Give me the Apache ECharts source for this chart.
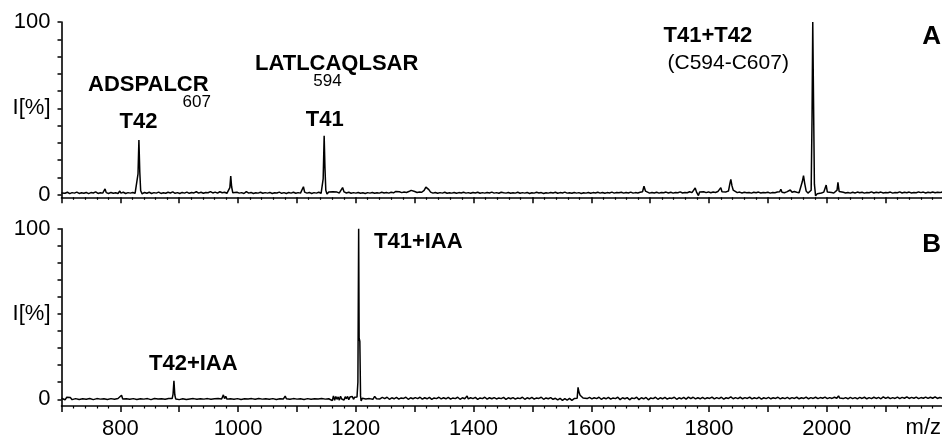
<!DOCTYPE html>
<html>
<head>
<meta charset="utf-8">
<script src="https://cdn.jsdelivr.net/npm/echarts@6/dist/echarts.min.js"></script>
<style>
  html, body { margin: 0; padding: 0; background: #fff; }
  #chart { width: 942px; height: 435px; }
</style>
</head>
<body>
<div id="chart"></div>
<script>
// m/z axis
const mzMin = 700;
const mzMax = 2200;
const mzLabels = [800, 1000, 1200, 1400, 1600, 1800, 2000];
// intensity axis (percent)
const intensityTicks = [0, 10, 20, 30, 40, 50, 60, 70, 80, 90, 100];
const intensityLabels = [0, 50, 100];

// Spectrum A: tryptic digest, non-reduced (m/z, relative intensity %)
const spectrumA = [
[700,0.9],[703,1.8],[706,0.7],[710,1.3],[714,0.5],[718,1.1],[722,0.8],[726,1.4],[730,0.6],[734,1.0],[738,0.7],[742,1.2],[746,0.5],[750,1.1],[754,0.9],[758,1.5],[762,0.6],[766,1.0],[770,0.8],[772,1.6],[774,3.2],[776,1.1],[780,0.6],[784,1.2],[788,0.7],[792,1.0],[796,0.6],[799,2.0],[801,0.8],[805,1.3],[809,0.6],[813,1.1],[817,0.8],[821,1.2],[825,0.7],[828,1.0],[830,12],[831.5,31.6],[833,13],[834.5,2.2],[837,0.4],[841,1.2],[845,0.7],[849,1.3],[853,0.6],[857,1.1],[861,0.8],[865,1.4],[869,0.6],[873,1.0],[877,0.7],[881,1.3],[885,0.9],[889,1.5],[893,0.7],[897,1.1],[901,0.6],[905,1.2],[909,0.8],[913,1.4],[917,0.7],[921,1.2],[925,0.9],[929,1.6],[933,0.8],[937,1.3],[941,0.7],[945,1.2],[949,1.0],[953,1.7],[957,0.9],[961,1.4],[965,0.8],[969,1.6],[973,1.0],[977,1.3],[981,0.7],[984,1.5],[986,4],[987.5,10.7],[989,4.5],[991,1.0],[994,0.6],[998,1.3],[1002,0.8],[1006,1.1],[1010,0.6],[1014,1.7],[1018,0.8],[1022,1.2],[1026,0.6],[1030,1.0],[1034,0.8],[1038,1.3],[1042,0.7],[1046,1.1],[1050,0.8],[1054,1.2],[1058,0.6],[1062,1.0],[1066,0.9],[1070,1.4],[1074,0.7],[1078,1.1],[1082,0.6],[1086,1.2],[1090,0.8],[1094,1.3],[1098,0.7],[1102,1.1],[1106,0.8],[1109,1.6],[1111,4.5],[1113,1.4],[1117,0.8],[1121,1.2],[1125,0.6],[1129,1.1],[1133,0.8],[1137,1.3],[1141,0.7],[1143,0.2],[1144.5,9],[1146.2,34],[1147.5,16],[1149,2.5],[1151,0.3],[1154,1.5],[1157,0.8],[1161,1.6],[1164,0.7],[1168,1.4],[1172,0.9],[1175,1.8],[1177.5,4.0],[1180,1.5],[1184,0.9],[1188,1.3],[1192,0.7],[1196,1.1],[1200,0.8],[1204,1.2],[1208,0.7],[1212,1.0],[1216,0.6],[1220,1.1],[1224,0.8],[1228,1.2],[1232,0.7],[1236,1.0],[1240,0.8],[1244,1.3],[1248,0.9],[1252,1.2],[1256,0.8],[1260,1.3],[1264,1.0],[1268,1.8],[1271,2.6],[1274,1.6],[1278,1.1],[1282,1.4],[1286,1.2],[1290,1.7],[1294,2.4],[1297,3.0],[1300,1.7],[1304,1.2],[1308,1.5],[1312,1.3],[1316,2.4],[1319,4.3],[1321,5.0],[1324,2.8],[1327,1.4],[1331,0.8],[1335,1.2],[1339,0.7],[1343,1.1],[1347,0.8],[1351,1.3],[1355,0.7],[1359,1.0],[1363,0.8],[1367,1.2],[1371,0.7],[1375,1.1],[1379,0.9],[1383,1.3],[1387,0.8],[1391,1.1],[1395,0.7],[1399,1.2],[1403,0.9],[1407,1.3],[1411,0.7],[1415,1.1],[1419,0.8],[1423,1.2],[1427,0.9],[1431,1.4],[1435,0.8],[1439,1.1],[1443,0.7],[1447,1.3],[1449,2.2],[1451,1.0],[1455,0.8],[1459,1.2],[1463,0.7],[1467,1.0],[1471,0.8],[1475,1.3],[1479,0.7],[1483,1.1],[1487,0.8],[1491,1.2],[1495,0.6],[1499,1.0],[1503,0.8],[1507,1.3],[1511,0.9],[1515,1.1],[1519,0.6],[1523,1.0],[1527,0.8],[1531,1.2],[1535,0.9],[1539,1.3],[1543,0.7],[1547,1.1],[1551,0.9],[1555,1.4],[1559,0.8],[1563,1.0],[1567,0.7],[1571,1.2],[1575,0.8],[1579,1.1],[1583,0.6],[1587,1.0],[1591,0.8],[1595,1.2],[1599,0.7],[1603,1.1],[1607,0.9],[1611,1.3],[1615,0.8],[1619,1.2],[1623,0.7],[1627,1.1],[1631,0.9],[1635,1.4],[1639,0.8],[1643,1.2],[1647,1.0],[1651,1.3],[1655,0.8],[1659,1.2],[1663,0.9],[1667,1.4],[1671,0.8],[1675,1.1],[1679,0.9],[1683,1.3],[1687,1.6],[1689.5,4.8],[1692,2.0],[1695,1.1],[1699,0.8],[1703,1.2],[1707,0.9],[1711,1.3],[1715,0.8],[1719,1.2],[1723,1.0],[1727,1.4],[1731,0.9],[1735,1.3],[1739,0.8],[1743,1.2],[1747,1.0],[1751,1.5],[1755,0.9],[1759,1.2],[1763,1.0],[1767,1.6],[1771,1.1],[1774,1.5],[1776.5,3.8],[1779,1.2],[1782,-0.6],[1784,1.5],[1787,1.0],[1791,1.6],[1795,1.1],[1799,1.5],[1803,1.0],[1807,1.4],[1811,1.2],[1815,1.7],[1818,1.4],[1820,4.0],[1822,1.6],[1825,1.2],[1829,1.5],[1833,2.0],[1835.5,6.5],[1837,8.8],[1839,5.0],[1841,2.6],[1844,1.6],[1848,1.1],[1852,1.4],[1856,0.9],[1860,1.3],[1864,1.0],[1868,1.2],[1872,0.8],[1876,1.3],[1880,1.0],[1884,1.4],[1888,0.9],[1892,1.2],[1896,1.0],[1900,1.3],[1904,0.8],[1908,1.2],[1912,1.0],[1916,1.4],[1920,1.6],[1922,3.0],[1924,1.3],[1928,1.0],[1932,1.5],[1935,1.2],[1938,2.6],[1941,1.3],[1945,1.7],[1949,1.3],[1953,1.0],[1956,2.0],[1958.5,7.5],[1960.5,10.9],[1962.5,6.5],[1965,2.0],[1968,0.8],[1971,0.5],[1973.5,2.5],[1975,45],[1976.2,100],[1977.5,55],[1979,6],[1981,-0.8],[1984,0.5],[1987,1.3],[1991,0.9],[1995,1.4],[1997.5,2.4],[1999,5.5],[2001,1.4],[2004,0.7],[2008,1.2],[2012,0.9],[2015,1.5],[2017.5,2.5],[2019,7.0],[2021,1.8],[2024,0.8],[2028,1.3],[2032,0.9],[2036,1.2],[2040,0.8],[2044,1.3],[2048,0.9],[2052,1.4],[2056,1.0],[2060,1.3],[2064,0.8],[2068,1.2],[2072,1.0],[2076,1.5],[2080,0.9],[2084,1.3],[2088,1.0],[2092,1.4],[2096,0.9],[2100,1.2],[2104,1.0],[2108,1.4],[2112,0.8],[2116,1.2],[2120,1.0],[2124,1.5],[2128,0.9],[2132,1.3],[2136,1.0],[2140,1.4],[2144,0.9],[2148,1.2],[2152,1.0],[2156,1.5],[2160,1.1],[2164,1.4],[2168,0.9],[2172,1.3],[2176,1.0],[2180,1.4],[2184,1.0],[2188,1.3],[2192,1.1],[2196,1.4],[2200,1.0]
];

// Spectrum B: after reduction and iodoacetamide alkylation
const spectrumB = [
[700,0.6],[703,1.5],[706,-0.3],[709,1.2],[712,0.2],[715,1.0],[718,-0.2],[721,0.9],[724,0.4],[727,1.3],[730,-0.1],[733,0.8],[736,0.3],[739,1.1],[742,0.0],[745,0.9],[748,0.5],[751,1.2],[754,-0.2],[757,0.8],[760,0.4],[763,1.3],[766,0.1],[769,0.9],[772,0.3],[775,1.1],[778,-0.1],[781,0.7],[784,0.4],[787,1.2],[790,0.0],[793,0.8],[796,0.5],[799,1.1],[802,2.4],[804,0.2],[807,0.9],[810,0.3],[813,1.2],[816,0.0],[819,0.8],[822,0.4],[825,1.3],[828,-0.1],[831,0.9],[834,0.3],[837,1.1],[840,0.1],[843,1.0],[846,0.4],[849,1.2],[852,-0.2],[855,0.8],[858,0.5],[861,1.3],[864,0.2],[867,1.0],[870,0.3],[873,1.2],[876,0.0],[879,0.9],[882,0.5],[885,1.1],[888,0.4],[889.5,3],[891,10.9],[892.5,2.5],[894,0.2],[897,0.9],[900,-0.2],[903,0.7],[906,0.3],[909,1.1],[912,-0.1],[915,0.8],[918,0.2],[921,1.0],[924,0.4],[927,1.2],[930,0.0],[933,0.9],[936,0.3],[939,1.1],[942,0.1],[945,0.8],[948,0.4],[951,1.2],[954,0.0],[957,0.9],[960,0.3],[963,1.1],[966,0.5],[969,1.3],[972,0.2],[975,2.6],[977,0.4],[979,1.8],[981,0.1],[984,0.9],[987,0.3],[990,1.1],[993,0.0],[996,0.8],[999,0.4],[1002,1.2],[1005,-0.1],[1008,0.9],[1011,0.3],[1014,1.0],[1017,0.2],[1020,1.1],[1023,0.4],[1026,0.9],[1029,0.0],[1032,0.8],[1035,0.5],[1038,1.2],[1041,0.1],[1044,0.9],[1047,0.3],[1050,1.1],[1053,0.0],[1056,0.8],[1059,0.4],[1062,1.2],[1065,-0.1],[1068,0.9],[1071,0.3],[1074,1.0],[1077,0.2],[1080,1.9],[1082,0.3],[1085,1.1],[1088,0.0],[1091,0.8],[1094,0.4],[1097,1.2],[1100,0.1],[1103,0.9],[1106,0.3],[1109,1.1],[1112,-0.1],[1115,0.8],[1118,0.4],[1121,1.2],[1124,0.0],[1127,0.9],[1130,0.3],[1133,1.1],[1136,0.2],[1139,1.0],[1142,0.4],[1145,1.3],[1148,0.1],[1151,0.9],[1154,0.3],[1157,1.2],[1160,-0.8],[1162,2.0],[1164,-0.6],[1166,1.6],[1168,0.0],[1170,1.4],[1172,-0.5],[1174,1.8],[1176,0.2],[1178,1.2],[1180,-0.4],[1182,1.5],[1184,0.3],[1186,1.7],[1188,-0.2],[1190,1.3],[1192,0.4],[1194,1.6],[1196,0.0],[1198,1.2],[1200,0.3],[1202,1.4],[1203.5,10],[1204.8,100],[1205.6,36],[1206.8,34],[1208,2],[1209,-1.0],[1211,0.6],[1214,1.3],[1217,0.2],[1220,1.0],[1223,0.4],[1226,1.2],[1229,0.0],[1232,1.7],[1235,0.3],[1238,1.0],
[1241,0.2],[1245,1.1],[1249,0.4],[1253,1.2],[1257,0.0],[1261,0.9],[1265,0.3],[1269,1.1],[1273,0.1],[1277,0.8],[1281,0.5],[1285,1.2],[1289,0.0],[1293,0.9],[1297,0.3],[1301,1.0],[1305,0.4],[1309,1.2],[1313,0.1],[1317,0.9],[1321,0.3],[1325,1.1],[1329,0.0],[1333,0.8],[1337,0.4],[1341,1.2],[1345,0.2],[1349,0.9],[1353,0.3],[1357,1.1],[1361,0.1],[1365,0.8],[1369,0.4],[1373,1.2],[1377,0.0],[1381,0.9],[1385,0.3],[1389,1.9],[1391,0.2],[1395,0.9],[1399,0.4],[1403,1.1],[1407,0.0],[1411,0.8],[1415,0.4],[1419,1.2],[1423,0.1],[1427,0.9],[1431,0.3],[1435,1.0],[1439,0.2],[1443,0.8],[1447,0.4],[1451,1.1],[1455,0.0],[1459,0.9],[1463,0.3],[1467,1.0],[1471,0.1],[1475,0.8],[1479,0.4],[1483,1.2],[1487,0.0],[1491,0.9],[1495,0.3],[1499,1.1],[1503,0.1],[1507,0.8],[1511,0.5],[1515,1.2],[1519,0.0],[1523,0.8],[1527,0.3],[1531,1.0],[1535,0.0],[1539,0.6],[1543,-0.4],[1547,0.5],[1551,-0.6],[1555,0.4],[1559,-0.5],[1563,0.5],[1567,-0.6],[1571,0.4],[1574,-0.3],[1576,0.6],[1577.5,7],[1579,4.2],[1581,2.4],[1583,1.6],[1586,0.8],[1589,1.3],[1593,0.4],[1597,1.1],[1601,0.2],[1605,0.9],[1609,0.4],[1613,1.2],[1617,0.0],[1621,0.9],[1625,0.3],[1629,1.1],[1633,0.1],[1637,0.8],[1641,0.4],[1645,1.2],[1649,-0.2],[1653,0.9],[1657,0.3],[1661,1.0],[1665,-0.3],[1669,0.8],[1673,0.4],[1677,1.2],[1681,-0.2],[1685,0.9],[1689,0.3],[1693,1.1],[1697,-0.3],[1701,0.8],[1705,0.4],[1709,1.2],[1713,0.0],[1717,0.9],[1721,0.3],[1725,1.1],[1729,0.1],[1733,0.8],[1737,0.5],[1741,1.2],[1745,0.0],[1749,0.9],[1753,0.3],[1757,1.1],[1761,0.1],[1765,1.3],[1769,0.4],[1773,1.2],[1777,0.2],[1781,0.9],[1785,0.3],[1789,1.1],[1793,0.2],[1797,0.9],[1801,0.5],[1805,1.3],[1809,0.2],[1813,1.0],[1817,0.4],[1821,1.2],[1825,0.1],[1829,0.9],[1833,0.5],[1837,1.4],[1841,0.3],[1845,1.0],[1849,0.4],[1853,1.2],[1857,0.3],[1861,1.0],[1865,0.5],[1869,1.3],[1873,0.2],[1877,0.9],[1881,0.4],[1885,1.2],[1889,0.1],[1893,0.9],[1897,0.4],[1901,1.1],[1905,0.3],[1909,0.9],[1913,0.5],[1917,1.2],[1921,0.2],[1925,0.9],[1929,0.4],[1933,1.1],[1937,0.3],[1941,1.0],[1945,0.5],[1949,1.2],[1953,0.3],[1957,0.9],[1961,0.5],[1965,1.3],[1969,0.3],[1973,1.0],[1977,0.5],[1981,1.2],[1985,0.4],[1989,1.0],[1993,0.6],[1997,1.3],[2001,0.4],[2005,1.0],[2009,0.5],[2013,1.2],[2017,0.6],[2020,2.0],[2022,0.7],[2025,1.6],[2028,0.4],[2032,1.0],[2036,0.3],[2040,1.1],[2044,0.4],[2048,1.0],[2052,0.3],[2056,1.1],[2060,0.5],[2064,1.2],[2068,0.3],[2072,1.0],[2076,0.4],[2080,1.2],[2084,0.5],[2088,1.1],[2092,0.3],[2096,1.4],[2100,0.5],[2104,1.2],[2108,0.4],[2112,1.0],[2116,0.5],[2120,1.3],[2124,0.4],[2128,1.1],[2132,0.6],[2136,1.4],[2140,0.5],[2144,1.1],[2148,0.6],[2152,1.3],[2156,0.4],[2160,1.0],[2164,0.6],[2168,1.3],[2172,0.5],[2176,1.2],[2180,0.6],[2184,1.4],[2188,0.5],[2192,1.1],[2196,0.7],[2200,1.2]
];

const FONT = '"Liberation Sans", Arial, Helvetica, sans-serif';
const INK = '#000';

function xAxisFor(gridIndex, showLabels) {
  return {
    type: 'value', gridIndex: gridIndex, min: mzMin, max: mzMax, interval: 100,
    axisLine: { show: true, onZero: false, lineStyle: { color: INK, width: 1.6 } },
    axisTick: { show: true, length: 6, lineStyle: { color: INK, width: 1.5 } },
    minorTick: { show: true, splitNumber: 5, length: 2.5, lineStyle: { color: INK, width: 1.2 } },
    splitLine: { show: false }, minorSplitLine: { show: false },
    axisLabel: {
      show: showLabels, margin: 12, color: INK, fontFamily: FONT, fontSize: 22,
      showMinLabel: true, showMaxLabel: false,
      formatter: function (v) { return mzLabels.indexOf(v) >= 0 ? String(v) : ''; }
    }
  };
}

function yAxisFor(gridIndex, lowest) {
  return {
    type: 'value', gridIndex: gridIndex, min: lowest, max: 100,
    axisLine: { show: true, onZero: false, lineStyle: { color: INK, width: 1.6 } },
    axisTick: { show: true, length: 4, customValues: intensityTicks, lineStyle: { color: INK, width: 1.5 } },
    splitLine: { show: false },
    axisLabel: {
      customValues: intensityLabels, margin: 11, color: INK, fontFamily: FONT, fontSize: 22,
      formatter: function (v) { return v === 50 ? 'I[%]' : String(v); }
    }
  };
}

function label(text, x, y, size, bold, align) {
  return {
    type: 'text', x: x, y: y, silent: true,
    style: {
      text: text, fill: INK,
      font: (bold ? 'bold ' : '') + size + 'px ' + FONT,
      align: align || 'center', verticalAlign: 'middle'
    }
  };
}

const chart = echarts.init(document.getElementById('chart'), null, { renderer: 'canvas' });
chart.setOption({
  animation: false,
  backgroundColor: '#fff',
  grid: [
    { left: 61.5, right: -2.5, top: 22, height: 175.3, containLabel: false, outerBoundsMode: 'none' },
    { left: 61.5, right: -2.5, top: 228.7, height: 177.3, containLabel: false, outerBoundsMode: 'none' }
  ],
  xAxis: [xAxisFor(0, false), xAxisFor(1, true)],
  yAxis: [yAxisFor(0, -1.62), yAxisFor(1, -3.93)],
  series: [
    { type: 'line', xAxisIndex: 0, yAxisIndex: 0, data: spectrumA, showSymbol: false, symbol: 'none',
      lineStyle: { color: INK, width: 1.5 }, silent: true },
    { type: 'line', xAxisIndex: 1, yAxisIndex: 1, data: spectrumB, showSymbol: false, symbol: 'none',
      lineStyle: { color: INK, width: 1.5 }, silent: true }
  ],
  graphic: [
    label('ADSPALCR', 148.3, 85.3, 22, true),
    label('607', 196.7, 102.7, 17, false),
    label('T42', 138.5, 122, 22, true),
    label('LATLCAQLSAR', 336.7, 64, 22, true),
    label('594', 327.5, 81.7, 17, false),
    label('T41', 324.8, 120, 22, true),
    label('T41+T42', 707.8, 35.7, 22, true),
    label('(C594-C607)', 728.2, 63.3, 21, false),
    label('A', 941, 37, 26, true, 'right'),
    label('T42+IAA', 193.3, 364, 22, true),
    label('T41+IAA', 418.3, 241.7, 22, true),
    label('B', 941, 245, 26, true, 'right'),
    label('m/z', 923.3, 428, 22, false)
  ]
});
</script>
</body>
</html>
